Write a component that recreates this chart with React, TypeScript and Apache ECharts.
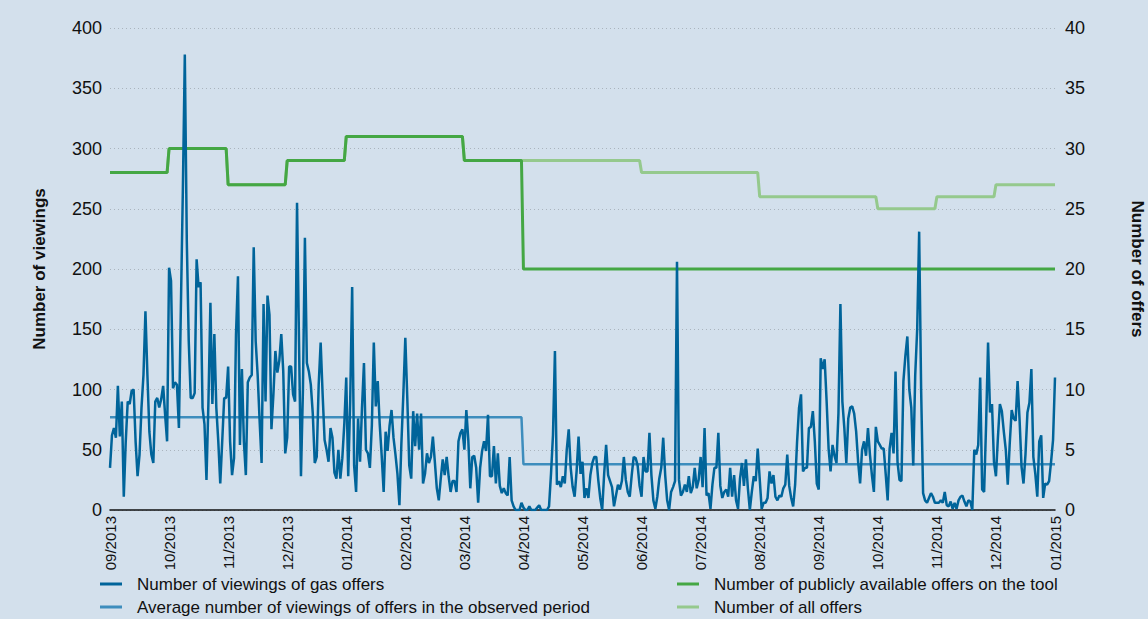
import React, { useEffect, useRef } from "react";
import * as echarts from "echarts";

const monthLabels = [
  "09/2013", "10/2013", "11/2013", "12/2013", "01/2014", "02/2014", "03/2014", "04/2014",
  "05/2014", "06/2014", "07/2014", "08/2014", "09/2014", "10/2014", "11/2014", "12/2014", "01/2015",
];

// daily viewings of gas offers, 30 readings per month
const viewingsByMonth: number[][] = [
  [35, 62, 68, 60, 103, 61, 90, 11, 57, 90, 88, 99, 100, 57, 28, 46, 85, 112, 165, 112, 65, 46, 39, 90, 93, 85, 92, 103, 79, 57],
  [201, 190, 101, 106, 104, 68, 168, 265, 378, 224, 140, 93, 93, 97, 208, 185, 189, 85, 71, 25, 90, 172, 88, 146, 85, 57, 22, 57, 93, 93],
  [119, 57, 29, 43, 146, 194, 54, 117, 57, 29, 106, 110, 112, 218, 140, 112, 74, 39, 171, 90, 178, 162, 67, 96, 132, 114, 124, 146, 115, 47],
  [60, 119, 119, 96, 90, 255, 140, 28, 100, 226, 122, 115, 104, 80, 39, 44, 104, 139, 96, 58, 50, 40, 68, 60, 31, 26, 50, 26, 43, 71],
  [110, 28, 90, 185, 37, 15, 76, 40, 85, 122, 50, 47, 35, 70, 139, 86, 107, 71, 45, 15, 65, 49, 70, 83, 60, 46, 30, 4, 55, 96],
  [143, 93, 37, 26, 82, 53, 80, 50, 80, 22, 30, 47, 39, 44, 61, 40, 18, 8, 26, 42, 29, 44, 28, 15, 24, 24, 15, 57, 64, 67],
  [50, 83, 58, 18, 44, 45, 35, 6, 35, 49, 57, 49, 79, 28, 28, 53, 22, 47, 20, 14, 18, 14, 12, 44, 8, 3, 0, 0, 0, 6],
  [2, 0, 0, 3, 0, 0, 0, 2, 4, 0, 0, 0, 0, 3, 30, 62, 132, 21, 24, 19, 28, 22, 50, 67, 35, 19, 11, 32, 61, 30],
  [40, 10, 18, 10, 29, 39, 44, 44, 25, 10, 0, 30, 54, 29, 24, 19, 3, 12, 21, 17, 24, 44, 25, 15, 11, 29, 44, 43, 37, 20],
  [11, 44, 32, 32, 64, 29, 8, 1, 11, 26, 35, 60, 29, 8, 0, 15, 19, 24, 206, 25, 12, 15, 21, 15, 28, 14, 19, 35, 18, 25],
  [44, 19, 68, 12, 14, 1, 21, 35, 35, 64, 20, 10, 15, 17, 11, 35, 11, 29, 8, 1, 26, 39, 20, 42, 18, 0, 15, 28, 24, 51],
  [26, 1, 6, 6, 10, 32, 22, 29, 11, 8, 12, 11, 18, 21, 46, 20, 10, 3, 21, 57, 85, 96, 32, 35, 35, 68, 69, 82, 57, 22],
  [17, 126, 117, 125, 90, 51, 32, 54, 45, 39, 80, 171, 90, 68, 39, 76, 85, 86, 80, 65, 40, 22, 50, 57, 45, 68, 46, 29, 15, 69],
  [57, 54, 51, 51, 30, 8, 51, 64, 47, 115, 40, 25, 24, 107, 128, 144, 100, 85, 37, 112, 150, 231, 100, 14, 8, 6, 10, 14, 11, 6],
  [6, 6, 8, 6, 15, 4, 3, 7, 1, 6, 1, 8, 11, 12, 7, 3, 8, 7, 0, 50, 46, 54, 110, 17, 15, 71, 139, 81, 88, 40],
  [28, 60, 88, 82, 65, 50, 21, 55, 83, 76, 74, 107, 75, 36, 22, 46, 81, 89, 117, 44, 30, 11, 57, 62, 10, 22, 21, 24, 40, 58],
];
const viewingsFinal = 110;

// average viewings per month (observed period averages)
const averageByMonth = [77, 77, 77, 77, 77, 77, 77, 38, 38, 38, 38, 38, 38, 38, 38, 38];
// number of publicly available offers on the tool, per month
const publicOffersByMonth = [28, 30, 27, 29, 31, 31, 29, 20, 20, 20, 20, 20, 20, 20, 20, 20];
// number of all offers, per month
const allOffersByMonth = [28, 30, 27, 29, 31, 31, 29, 29, 29, 28, 28, 26, 26, 25, 26, 27];

const seriesNames = [
  "Number of viewings of gas offers",
  "Average number of viewings of offers in the observed period",
  "Number of publicly available offers on the tool",
  "Number of all offers",
];

const DAYS = 30;

const categories: string[] = [];
monthLabels.slice(0, 16).forEach((m) => {
  for (let d = 0; d < DAYS; d++) categories.push(d === 0 ? m : `${m} #${d + 1}`);
});
categories.push(monthLabels[16]);

const expandMonthly = (arr: number[]) => {
  const out: number[] = [];
  arr.forEach((v) => {
    for (let d = 0; d < DAYS; d++) out.push(v);
  });
  out.push(arr[arr.length - 1]);
  return out;
};

const viewings = [...viewingsByMonth.flat(), viewingsFinal];

const SANS = "'Liberation Sans', Arial, sans-serif";

const legendAt = (name: string, left: number, top: number) => ({
  orient: "horizontal",
  left,
  top,
  padding: 0,
  itemWidth: 22,
  itemHeight: 3,
  icon: "rect",
  textStyle: { fontFamily: SANS, fontSize: 17, color: "#111", lineHeight: 20, padding: [0, 0, 0, 10] },
  data: [name],
});

export default function App() {
  const ref = useRef<HTMLDivElement>(null);
  useEffect(() => {
    document.body.style.margin = "0";
    const chart = echarts.init(ref.current!, null, { renderer: "svg" });
    chart.setOption({
      animation: false,
      backgroundColor: "#d3e0ec",
      grid: { left: 110, right: 93, top: 28, bottom: 109, containLabel: false, outerBoundsMode: "none" },
      legend: [
        legendAt(seriesNames[0], 100, 574),
        legendAt(seriesNames[1], 100, 597),
        legendAt(seriesNames[2], 677, 574),
        legendAt(seriesNames[3], 677, 597),
      ],
      xAxis: {
        type: "category",
        data: categories,
        boundaryGap: false,
        axisLine: { lineStyle: { color: "#111", width: 1.5 } },
        axisTick: { show: false },
        axisLabel: {
          interval: DAYS - 1,
          rotate: 90,
          margin: 6,
          fontFamily: SANS,
          fontSize: 15,
          color: "#111",
        },
        splitLine: { show: false },
      },
      yAxis: [
        {
          type: "value",
          min: 0,
          max: 400,
          interval: 50,
          name: "Number of viewings",
          nameLocation: "middle",
          nameGap: 62,
          nameRotate: 90,
          nameTextStyle: { fontFamily: SANS, fontSize: 17, fontWeight: "bold", color: "#111" },
          axisLine: { show: false },
          axisTick: { show: false },
          axisLabel: { fontFamily: SANS, fontSize: 18, color: "#111", margin: 8 },
          splitLine: { lineStyle: { color: "#aab4bd", type: [1, 3], width: 1 } },
        },
        {
          type: "value",
          min: 0,
          max: 40,
          interval: 5,
          name: "Number of offers",
          nameLocation: "middle",
          nameGap: 74,
          nameRotate: -90,
          nameTextStyle: { fontFamily: SANS, fontSize: 17, fontWeight: "bold", color: "#111" },
          axisLine: { show: false },
          axisTick: { show: false },
          axisLabel: { fontFamily: SANS, fontSize: 18, color: "#111", margin: 10 },
          splitLine: { show: false },
        },
      ],
      series: [
        {
          name: seriesNames[3],
          type: "line",
          yAxisIndex: 1,
          data: expandMonthly(allOffersByMonth),
          showSymbol: false,
          lineStyle: { color: "#95c98d", width: 3 },
          itemStyle: { color: "#95c98d" },
          z: 2,
        },
        {
          name: seriesNames[2],
          type: "line",
          yAxisIndex: 1,
          data: expandMonthly(publicOffersByMonth),
          showSymbol: false,
          lineStyle: { color: "#44a744", width: 3 },
          itemStyle: { color: "#44a744" },
          z: 3,
        },
        {
          name: seriesNames[1],
          type: "line",
          yAxisIndex: 0,
          data: expandMonthly(averageByMonth),
          showSymbol: false,
          lineStyle: { color: "#3d8dbd", width: 2.5 },
          itemStyle: { color: "#3d8dbd" },
          z: 4,
        },
        {
          name: seriesNames[0],
          type: "line",
          yAxisIndex: 0,
          data: viewings,
          showSymbol: false,
          lineStyle: { color: "#00649a", width: 2.5 },
          itemStyle: { color: "#00649a" },
          z: 5,
        },
      ],
    });
    return () => chart.dispose();
  }, []);
  return <div ref={ref} style={{ position: "fixed", left: 0, top: 0, width: 1148, height: 619 }} />;
}
